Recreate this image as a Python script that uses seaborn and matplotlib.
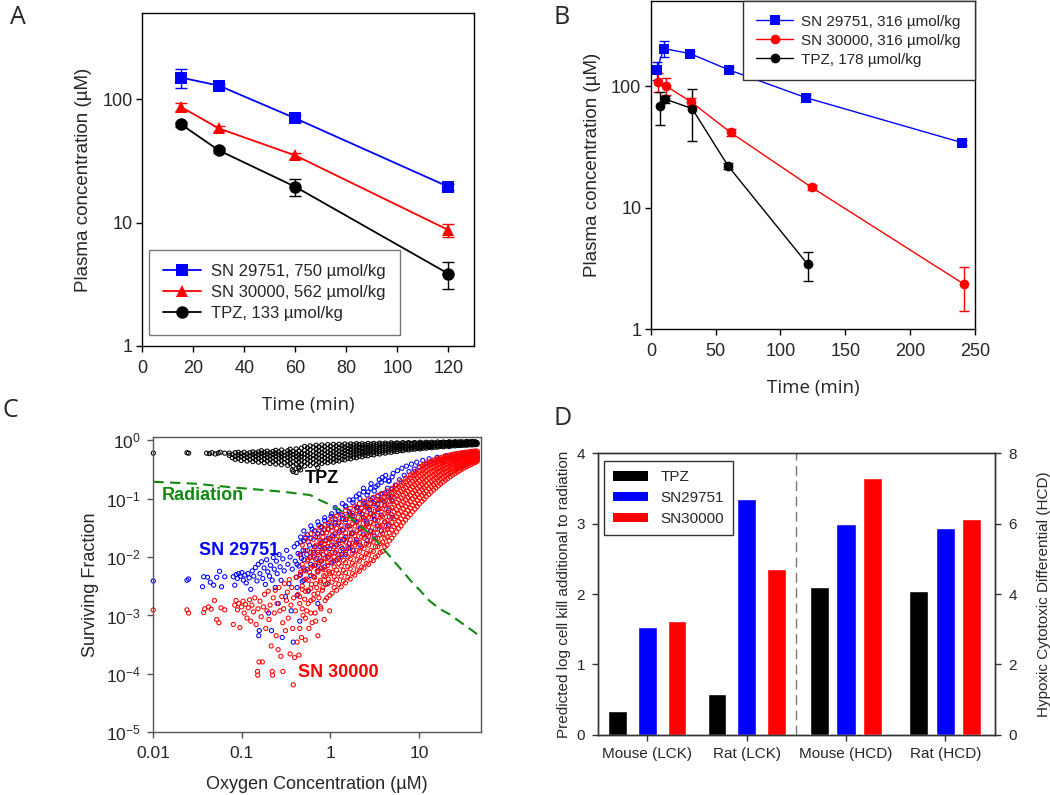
import matplotlib
matplotlib.use('Agg')
import matplotlib.pyplot as plt
import matplotlib.ticker as mticker
from matplotlib.patches import Patch
import seaborn as sns
import pandas as pd

sns.set_style('ticks')
plt.rcParams['font.family'] = ['Liberation Sans', 'DejaVu Sans']
plt.rcParams['axes.unicode_minus'] = False

BLUE, RED, BLACK, GREEN = '#0000ff', '#ff0000', '#000000', '#108a10'

# ---- panel A: plasma PK, mouse ----
time_a = [15, 30, 60, 120]
sn29751_a = [150, 129, 70, 19.5]
sn29751_a_err = [26, 4, 4, 1.2]
sn30000_a = [87, 58, 35, 8.7]
sn30000_a_err = [6.5, 3, 2, 1.0]
tpz_a = [63, 38.5, 19.5, 3.85]
tpz_a_err = [3, 2, 3, 0.95]

# ---- panel B: plasma PK, rat ----
sn29751_b_t = [4.4, 9.8, 30, 60, 120, 240]
sn29751_b = [135, 203, 185, 136, 80, 34.3]
sn29751_b_err = [22, 31, 8, 8, 5, 1.5]
sn30000_b_t = [5.7, 11.6, 31, 61.5, 124, 242]
sn30000_b = [108, 100, 74, 41.5, 14.7, 2.34]
sn30000_b_err = [19, 16, 5, 2.5, 0.7, 0.93]
tpz_b_t = [7, 11, 31.7, 59.7, 121]
tpz_b = [68.7, 78, 65.3, 21.9, 3.42]
tpz_b_err = [21, 5, 30, 1.3, 0.93]

# ---- panel C: surviving fraction vs O2 (µM, SF) ----
# isolated points as (O2, SF); dense regions as (O2, [SF, SF, ...])
tpz_pts = [
    (0.01, 0.60), (0.024, 0.61), (0.025, 0.60), (0.040, 0.60), (0.043, 0.59), (0.046, 0.61),
    (0.050, 0.58), (0.054, 0.60), (0.057, 0.62), (0.064, 0.60),
    (0.37, 0.31), (0.38, 0.29), (0.41, 0.28), (0.44, 0.33), (0.46, 0.31), (0.72, 0.34),
]
tpz_band = [
    (0.072, [0.55, 0.60]), (0.078, [0.50, 0.57]), (0.084, [0.47, 0.53, 0.61]),
    (0.091, [0.49, 0.56, 0.62]), (0.098, [0.45, 0.52, 0.59]), (0.106, [0.48, 0.55, 0.62]),
    (0.114, [0.44, 0.51, 0.58]), (0.123, [0.47, 0.54, 0.61]), (0.133, [0.43, 0.50, 0.57, 0.63]),
    (0.143, [0.46, 0.53, 0.60]), (0.154, [0.42, 0.49, 0.56, 0.63]),
    (0.166, [0.45, 0.52, 0.59, 0.66]), (0.179, [0.41, 0.48, 0.55, 0.62]),
    (0.193, [0.44, 0.51, 0.58, 0.65]), (0.208, [0.40, 0.47, 0.54, 0.61]),
    (0.224, [0.43, 0.50, 0.57, 0.64]), (0.241, [0.39, 0.46, 0.53, 0.60, 0.67]),
    (0.26, [0.42, 0.49, 0.56, 0.63]), (0.28, [0.38, 0.45, 0.52, 0.59, 0.68]),
    (0.30, [0.41, 0.48, 0.55, 0.62]), (0.33, [0.37, 0.44, 0.51, 0.58, 0.66]),
    (0.35, [0.40, 0.47, 0.54, 0.61, 0.70]), (0.38, [0.36, 0.43, 0.50, 0.57, 0.64]),
    (0.41, [0.39, 0.46, 0.53, 0.60, 0.71]), (0.44, [0.35, 0.42, 0.49, 0.56, 0.65]),
    (0.47, [0.38, 0.45, 0.52, 0.59, 0.73]), (0.51, [0.36, 0.43, 0.50, 0.58, 0.67, 0.78]),
    (0.55, [0.40, 0.47, 0.54, 0.62, 0.74]), (0.59, [0.37, 0.44, 0.51, 0.59, 0.69, 0.80]),
    (0.64, [0.41, 0.48, 0.55, 0.64, 0.76]), (0.69, [0.38, 0.45, 0.52, 0.60, 0.70, 0.82]),
    (0.74, [0.42, 0.49, 0.57, 0.66, 0.77]), (0.80, [0.40, 0.46, 0.53, 0.61, 0.71, 0.83]),
    (0.86, [0.43, 0.50, 0.58, 0.67, 0.78]), (0.93, [0.41, 0.47, 0.54, 0.62, 0.72, 0.84]),
    (1.00, [0.44, 0.51, 0.59, 0.68, 0.79]), (1.08, [0.42, 0.48, 0.55, 0.63, 0.73, 0.85]),
    (1.16, [0.45, 0.52, 0.60, 0.69, 0.80]), (1.25, [0.44, 0.50, 0.57, 0.65, 0.74, 0.85]),
    (1.35, [0.47, 0.54, 0.62, 0.71, 0.81]), (1.45, [0.46, 0.52, 0.59, 0.67, 0.76, 0.86]),
    (1.57, [0.49, 0.56, 0.64, 0.72, 0.82]), (1.69, [0.48, 0.54, 0.61, 0.69, 0.78, 0.86]),
    (1.82, [0.51, 0.58, 0.65, 0.73, 0.83]), (1.96, [0.50, 0.56, 0.63, 0.70, 0.79, 0.87]),
    (2.11, [0.53, 0.60, 0.67, 0.75, 0.84]), (2.28, [0.52, 0.58, 0.64, 0.72, 0.80, 0.87]),
    (2.46, [0.55, 0.61, 0.68, 0.76, 0.84]), (2.65, [0.54, 0.60, 0.66, 0.73, 0.81, 0.88]),
    (2.86, [0.57, 0.63, 0.70, 0.77, 0.85]), (3.08, [0.56, 0.62, 0.68, 0.75, 0.82, 0.88]),
    (3.32, [0.59, 0.65, 0.71, 0.78, 0.85]), (3.58, [0.58, 0.64, 0.70, 0.76, 0.83, 0.89]),
    (3.86, [0.61, 0.67, 0.73, 0.79, 0.86]), (4.16, [0.60, 0.66, 0.72, 0.78, 0.84, 0.89]),
    (4.49, [0.63, 0.69, 0.74, 0.80, 0.86]), (4.84, [0.62, 0.68, 0.73, 0.79, 0.85, 0.90]),
    (5.22, [0.65, 0.70, 0.76, 0.81, 0.87]), (5.63, [0.64, 0.69, 0.75, 0.80, 0.86, 0.90]),
    (6.07, [0.67, 0.72, 0.77, 0.82, 0.87]), (6.55, [0.66, 0.71, 0.76, 0.81, 0.86, 0.91]),
    (7.06, [0.69, 0.74, 0.78, 0.83, 0.88]), (7.61, [0.68, 0.73, 0.77, 0.82, 0.87, 0.91]),
    (8.21, [0.70, 0.75, 0.79, 0.84, 0.88]), (8.85, [0.70, 0.74, 0.78, 0.83, 0.87, 0.91]),
    (9.55, [0.72, 0.76, 0.80, 0.84, 0.89]), (10.3, [0.71, 0.75, 0.79, 0.83, 0.88, 0.92]),
    (11.1, [0.73, 0.77, 0.81, 0.85, 0.89]), (12.0, [0.73, 0.77, 0.80, 0.84, 0.88, 0.92]),
    (12.9, [0.75, 0.78, 0.82, 0.86, 0.90]), (13.9, [0.74, 0.78, 0.81, 0.85, 0.89, 0.92]),
    (15.0, [0.76, 0.80, 0.83, 0.87, 0.90]), (16.2, [0.76, 0.79, 0.82, 0.86, 0.89, 0.93]),
    (17.5, [0.78, 0.81, 0.84, 0.87, 0.91]), (18.8, [0.77, 0.80, 0.83, 0.87, 0.90, 0.93]),
    (20.3, [0.79, 0.82, 0.85, 0.88, 0.91]), (21.9, [0.78, 0.81, 0.84, 0.88, 0.91, 0.94]),
    (23.6, [0.80, 0.83, 0.86, 0.89, 0.92]), (25.5, [0.80, 0.83, 0.85, 0.88, 0.91, 0.94]),
    (27.5, [0.81, 0.84, 0.87, 0.90, 0.93]), (29.6, [0.81, 0.84, 0.86, 0.89, 0.92, 0.94]),
    (31.9, [0.82, 0.85, 0.88, 0.90, 0.93]), (34.4, [0.82, 0.85, 0.87, 0.90, 0.92, 0.95]),
    (37.1, [0.83, 0.86, 0.88, 0.91, 0.94]), (40.0, [0.83, 0.86, 0.88, 0.90, 0.93, 0.95]),
    (43.2, [0.84, 0.87, 0.89, 0.92, 0.94]), (45.0, [0.85, 0.88, 0.91]),
]
sn29751_pts = [
    (0.010, 0.0039), (0.024, 0.0040), (0.025, 0.0042), (0.036, 0.0031), (0.037, 0.0046),
    (0.041, 0.0045), (0.044, 0.0037), (0.048, 0.0033), (0.052, 0.0045), (0.056, 0.0057),
    (0.059, 0.0031), (0.064, 0.0046),
    (0.080, 0.0046), (0.083, 0.0033), (0.086, 0.0050), (0.089, 0.0043), (0.092, 0.0052),
    (0.096, 0.0047), (0.10, 0.0054), (0.104, 0.0040), (0.108, 0.0049), (0.112, 0.0036),
    (0.117, 0.0052), (0.121, 0.0044), (0.126, 0.0028), (0.131, 0.0058), (0.136, 0.0047),
    (0.142, 0.0066), (0.148, 0.0039), (0.153, 0.0075), (0.155, 0.00045), (0.157, 0.00055),
    (0.160, 0.0052), (0.166, 0.0083), (0.172, 0.0043), (0.178, 0.0065), (0.184, 0.0034),
    (0.19, 0.0090), (0.196, 0.0056),
    (0.20, 0.0011), (0.205, 0.0047), (0.21, 0.0072), (0.216, 0.00055), (0.22, 0.0040),
    (0.226, 0.0098), (0.232, 0.0062), (0.238, 0.0030), (0.245, 0.0085), (0.25, 0.0052),
    (0.257, 0.0016), (0.263, 0.0110), (0.27, 0.0068), (0.277, 0.0040), (0.285, 0.00042),
    (0.29, 0.0093), (0.30, 0.0058), (0.31, 0.0021), (0.32, 0.0130), (0.33, 0.0075),
    (0.34, 0.0035), (0.35, 0.0100), (0.36, 0.0012), (0.37, 0.0062), (0.38, 0.00035),
    (0.39, 0.0150), (0.40, 0.0085), (0.41, 0.0045), (0.42, 0.0022), (0.43, 0.0115),
    (0.44, 0.0070), (0.45, 0.0008), (0.46, 0.0180), (0.47, 0.0095), (0.48, 0.0038),
    (0.49, 0.0130),
    (0.50, 0.0060), (0.52, 0.0210), (0.54, 0.0110), (0.56, 0.0026), (0.58, 0.0160),
    (0.60, 0.0075), (0.62, 0.0300), (0.64, 0.0120), (0.66, 0.0045), (0.68, 0.0220),
    (0.70, 0.0095), (0.72, 0.0016), (0.74, 0.0350), (0.76, 0.0150), (0.78, 0.0065),
    (0.80, 0.0260), (0.83, 0.0110), (0.86, 0.0420), (0.89, 0.0190), (0.92, 0.0035),
    (0.95, 0.0300), (0.98, 0.0140), (1.01, 0.0500), (1.05, 0.0230), (1.09, 0.0085),
    (1.13, 0.0380), (1.17, 0.0160), (1.22, 0.0600), (1.27, 0.0280), (1.32, 0.0110),
    (1.37, 0.0450), (1.42, 0.0200), (1.48, 0.0750), (1.54, 0.0340), (1.60, 0.0140),
    (1.66, 0.0550), (1.73, 0.0250), (1.80, 0.0950), (1.87, 0.0420), (1.94, 0.0180),
    (2.02, 0.0700),
    (2.10, 0.120), (2.18, 0.0300), (2.27, 0.0550), (2.36, 0.150), (2.45, 0.0850),
    (2.55, 0.0400), (2.65, 0.130), (2.76, 0.0650), (2.87, 0.180), (2.98, 0.100),
    (3.10, 0.0500), (3.25, 0.160), (3.40, 0.0800), (3.55, 0.210), (3.70, 0.120),
    (3.85, 0.230), (4.00, 0.0900), (4.20, 0.250), (4.40, 0.150), (4.60, 0.200),
    (4.85, 0.110), (5.10, 0.270), (5.40, 0.170), (5.70, 0.300), (6.00, 0.210),
    (6.40, 0.330), (6.80, 0.250), (7.20, 0.360), (7.70, 0.290), (8.20, 0.390),
    (8.80, 0.320), (9.40, 0.420), (10.0, 0.350), (11.0, 0.450), (12.0, 0.390),
    (13.0, 0.480), (14.5, 0.420), (16.0, 0.510), (18.0, 0.460), (20.0, 0.540),
    (22.5, 0.490), (25.0, 0.570), (28.0, 0.520), (31.0, 0.590), (35.0, 0.560),
    (39.0, 0.620), (44.0, 0.600),
]
sn29751_band = [
    (0.42, [0.0030, 0.0075, 0.017]), (0.46, [0.0050, 0.011, 0.022]),
    (0.50, [0.0040, 0.0090, 0.019, 0.028]), (0.55, [0.0062, 0.013, 0.024]),
    (0.60, [0.0048, 0.010, 0.021, 0.034]), (0.66, [0.0072, 0.015, 0.028]),
    (0.72, [0.0058, 0.012, 0.025, 0.040]), (0.79, [0.0085, 0.018, 0.033]),
    (0.86, [0.0068, 0.014, 0.029, 0.047]), (0.94, [0.010, 0.021, 0.038]),
    (1.03, [0.0080, 0.016, 0.033, 0.055]), (1.13, [0.012, 0.025, 0.045, 0.070]),
    (1.24, [0.0095, 0.019, 0.038, 0.062]), (1.36, [0.014, 0.029, 0.052, 0.082]),
    (1.49, [0.011, 0.022, 0.044, 0.072]), (1.63, [0.017, 0.034, 0.060, 0.095]),
    (1.79, [0.013, 0.026, 0.051, 0.085]), (1.96, [0.020, 0.040, 0.070, 0.110]),
    (2.15, [0.016, 0.031, 0.060, 0.100]), (2.36, [0.024, 0.047, 0.082, 0.130]),
    (2.59, [0.019, 0.037, 0.070, 0.115]), (2.84, [0.028, 0.055, 0.095, 0.150]),
    (3.12, [0.023, 0.044, 0.082, 0.135]), (3.42, [0.034, 0.065, 0.110, 0.170]),
    (3.75, [0.028, 0.052, 0.095, 0.190]), (4.12, [0.040, 0.076, 0.125, 0.210]),
    (4.52, [0.034, 0.062, 0.110, 0.200]), (4.96, [0.048, 0.090, 0.145, 0.235]),
]
sn30000_pts = [
    (0.010, 0.00124), (0.024, 0.00125), (0.025, 0.00110), (0.037, 0.00112), (0.038, 0.00130),
    (0.042, 0.00140), (0.045, 0.00128), (0.049, 0.00180), (0.052, 0.00085), (0.055, 0.00075),
    (0.058, 0.00135), (0.064, 0.00125),
    (0.080, 0.00070), (0.083, 0.00150), (0.086, 0.00180), (0.089, 0.00125), (0.092, 0.00160),
    (0.095, 0.00062), (0.099, 0.00140), (0.103, 0.00175), (0.106, 0.00110), (0.110, 0.00155),
    (0.114, 0.00090), (0.118, 0.00135), (0.122, 0.00185), (0.126, 0.00080), (0.130, 0.00150),
    (0.135, 0.00115), (0.140, 0.00200), (0.145, 0.00070), (0.150, 0.00011), (0.151, 0.000095),
    (0.152, 0.00130), (0.156, 0.00016), (0.160, 0.00175), (0.165, 0.00095), (0.170, 0.00016),
    (0.175, 0.00140), (0.180, 0.00230), (0.186, 0.00060), (0.192, 0.00120), (0.198, 0.00260),
    (0.202, 0.00085), (0.208, 0.00150), (0.214, 0.00030), (0.220, 0.00011), (0.222, 0.000095),
    (0.226, 0.00200), (0.232, 0.00110), (0.238, 0.00270), (0.244, 0.00045), (0.250, 0.00160),
    (0.256, 0.00026), (0.262, 0.00300), (0.268, 0.00120), (0.275, 0.00020), (0.282, 0.00210),
    (0.289, 0.00075), (0.290, 0.00011), (0.296, 0.00130), (0.303, 0.00350), (0.310, 0.00055),
    (0.318, 0.00180), (0.326, 0.00250), (0.334, 0.00090), (0.342, 0.00410), (0.350, 0.00022),
    (0.358, 0.00150), (0.366, 0.00300), (0.375, 0.00060), (0.380, 0.000065), (0.384, 0.00200),
    (0.393, 0.00019), (0.402, 0.00120), (0.412, 0.00450), (0.420, 0.00035), (0.430, 0.00230),
    (0.440, 0.00021), (0.450, 0.00160), (0.460, 0.00550), (0.470, 0.00042), (0.480, 0.00280),
    (0.490, 0.00100),
    (0.50, 0.00650), (0.51, 0.00190), (0.52, 0.00038), (0.53, 0.00420), (0.54, 0.00120),
    (0.55, 0.00850), (0.56, 0.00270), (0.57, 0.00060), (0.58, 0.00550), (0.59, 0.01000),
    (0.60, 0.00180), (0.61, 0.00340), (0.62, 0.00075), (0.63, 0.00700), (0.64, 0.01300),
    (0.65, 0.00230), (0.66, 0.00450), (0.67, 0.00110), (0.68, 0.00900), (0.69, 0.01600),
    (0.70, 0.00300), (0.71, 0.00580), (0.72, 0.00045), (0.73, 0.01100), (0.74, 0.00200),
    (0.75, 0.00800), (0.76, 0.01900), (0.77, 0.00370), (0.78, 0.00130), (0.79, 0.00650),
    (0.80, 0.01400), (0.81, 0.00270), (0.82, 0.02200), (0.83, 0.00950), (0.84, 0.00480),
    (0.85, 0.00085), (0.86, 0.01700), (0.87, 0.00600), (0.88, 0.00340), (0.89, 0.01200),
    (0.90, 0.02600), (0.91, 0.00200), (0.92, 0.00800), (0.93, 0.01500), (0.94, 0.00420),
    (0.95, 0.03000), (0.96, 0.01000), (0.97, 0.00560), (0.98, 0.00120), (0.99, 0.02000),
]
sn30000_band = [
    (0.45, [0.0006, 0.0021, 0.0048, 0.011]), (0.48, [0.0013, 0.0032, 0.0075, 0.016]),
    (0.52, [0.0009, 0.0026, 0.0058, 0.013, 0.022]), (0.56, [0.0016, 0.0040, 0.0090, 0.018]),
    (0.60, [0.0011, 0.0029, 0.0065, 0.012, 0.025]), (0.64, [0.0019, 0.0047, 0.0100, 0.020]),
    (0.68, [0.0008, 0.0035, 0.0072, 0.015, 0.028]), (0.72, [0.0024, 0.0055, 0.0120, 0.022]),
    (0.77, [0.0014, 0.0040, 0.0085, 0.017, 0.032]), (0.82, [0.0030, 0.0062, 0.0130, 0.026]),
    (0.87, [0.0018, 0.0046, 0.0095, 0.019, 0.036]), (0.93, [0.0035, 0.0072, 0.0150, 0.030]),
    (0.98, [0.0022, 0.0052, 0.0110, 0.021, 0.040]),
    (1.04, [0.0024, 0.0037, 0.0055, 0.0082, 0.012, 0.018, 0.028, 0.045]),
    (1.10, [0.0030, 0.0046, 0.0068, 0.010, 0.015, 0.023, 0.035]),
    (1.17, [0.0027, 0.0041, 0.0060, 0.0090, 0.013, 0.020, 0.031, 0.050]),
    (1.24, [0.0034, 0.0052, 0.0077, 0.011, 0.017, 0.026, 0.040]),
    (1.32, [0.0031, 0.0047, 0.0070, 0.010, 0.015, 0.023, 0.035, 0.055]),
    (1.40, [0.0039, 0.0059, 0.0088, 0.013, 0.019, 0.029, 0.045]),
    (1.48, [0.0036, 0.0054, 0.0080, 0.012, 0.018, 0.026, 0.040, 0.062]),
    (1.57, [0.0045, 0.0068, 0.010, 0.015, 0.022, 0.033, 0.050]),
    (1.67, [0.0042, 0.0063, 0.0093, 0.014, 0.020, 0.030, 0.045, 0.068]),
    (1.77, [0.0052, 0.0078, 0.0115, 0.017, 0.025, 0.037, 0.056]),
    (1.88, [0.0049, 0.0073, 0.0108, 0.016, 0.023, 0.034, 0.050, 0.075]),
    (2.00, [0.0060, 0.0090, 0.013, 0.019, 0.028, 0.041, 0.062]),
    (2.12, [0.0057, 0.0085, 0.0125, 0.018, 0.026, 0.038, 0.056, 0.082]),
    (2.25, [0.0068, 0.0102, 0.015, 0.022, 0.032, 0.046, 0.068]),
    (2.39, [0.0065, 0.0097, 0.014, 0.021, 0.030, 0.043, 0.062, 0.090]),
    (2.54, [0.0078, 0.0115, 0.017, 0.024, 0.035, 0.051, 0.075]),
    (2.69, [0.0075, 0.011, 0.016, 0.023, 0.033, 0.048, 0.069, 0.098]),
    (2.86, [0.0090, 0.013, 0.019, 0.027, 0.039, 0.056, 0.082]),
    (3.04, [0.0087, 0.0125, 0.018, 0.026, 0.037, 0.053, 0.076, 0.105]),
    (3.22, [0.010, 0.015, 0.021, 0.030, 0.043, 0.062, 0.089]),
    (3.42, [0.0105, 0.015, 0.021, 0.030, 0.042, 0.059, 0.083, 0.113]),
    (3.63, [0.012, 0.017, 0.024, 0.034, 0.048, 0.068, 0.096]),
    (3.86, [0.0125, 0.018, 0.025, 0.035, 0.049, 0.068, 0.093, 0.122]),
    (4.10, [0.015, 0.021, 0.029, 0.040, 0.056, 0.077, 0.105]),
    (4.35, [0.016, 0.022, 0.030, 0.042, 0.058, 0.079, 0.107, 0.135]),
    (4.62, [0.019, 0.026, 0.036, 0.049, 0.067, 0.090, 0.120]),
    (4.91, [0.021, 0.029, 0.039, 0.053, 0.071, 0.095, 0.126, 0.150]),
    (5.21, [0.024, 0.033, 0.045, 0.060, 0.080, 0.106, 0.138]),
    (5.54, [0.027, 0.036, 0.049, 0.065, 0.086, 0.113, 0.145, 0.170]),
    (5.88, [0.031, 0.041, 0.055, 0.073, 0.096, 0.125, 0.160]),
    (6.25, [0.034, 0.045, 0.060, 0.079, 0.103, 0.133, 0.168, 0.195]),
    (6.64, [0.039, 0.051, 0.067, 0.088, 0.114, 0.146, 0.185]),
    (7.05, [0.043, 0.056, 0.073, 0.095, 0.122, 0.155, 0.193, 0.225]),
    (7.49, [0.048, 0.063, 0.082, 0.105, 0.134, 0.170, 0.212]),
    (7.96, [0.053, 0.069, 0.089, 0.114, 0.145, 0.182, 0.225, 0.255]),
    (8.45, [0.060, 0.077, 0.099, 0.126, 0.159, 0.198, 0.243]),
    (8.98, [0.066, 0.085, 0.108, 0.137, 0.171, 0.212, 0.258, 0.290]),
    (9.54, [0.073, 0.093, 0.118, 0.149, 0.185, 0.228, 0.276]),
    (10.1, [0.081, 0.103, 0.130, 0.162, 0.200, 0.245, 0.295, 0.340]),
    (10.8, [0.090, 0.113, 0.142, 0.176, 0.216, 0.262, 0.314, 0.360]),
    (11.4, [0.098, 0.123, 0.153, 0.189, 0.231, 0.279, 0.332, 0.385]),
    (12.1, [0.108, 0.135, 0.167, 0.205, 0.249, 0.298, 0.352, 0.405]),
    (12.9, [0.118, 0.147, 0.181, 0.221, 0.266, 0.316, 0.370, 0.420]),
    (13.7, [0.129, 0.160, 0.196, 0.237, 0.283, 0.334, 0.388, 0.438]),
    (14.6, [0.140, 0.173, 0.210, 0.252, 0.299, 0.350, 0.404, 0.455]),
    (15.5, [0.152, 0.186, 0.225, 0.268, 0.316, 0.367, 0.421, 0.470]),
    (16.5, [0.165, 0.200, 0.240, 0.284, 0.332, 0.383, 0.437, 0.485]),
    (17.5, [0.178, 0.214, 0.255, 0.300, 0.348, 0.399, 0.452, 0.500]),
    (18.6, [0.192, 0.229, 0.271, 0.316, 0.364, 0.415, 0.467, 0.515]),
    (19.8, [0.206, 0.244, 0.286, 0.331, 0.379, 0.429, 0.481, 0.530]),
    (21.0, [0.221, 0.259, 0.301, 0.346, 0.394, 0.443, 0.494, 0.545]),
    (22.4, [0.236, 0.275, 0.317, 0.362, 0.408, 0.457, 0.507, 0.558]),
    (23.8, [0.252, 0.290, 0.332, 0.376, 0.422, 0.470, 0.519, 0.570]),
    (25.3, [0.268, 0.306, 0.347, 0.390, 0.436, 0.482, 0.530, 0.580]),
    (26.9, [0.284, 0.322, 0.362, 0.404, 0.449, 0.494, 0.541, 0.590]),
    (28.6, [0.300, 0.337, 0.377, 0.418, 0.461, 0.506, 0.551, 0.600]),
    (30.4, [0.317, 0.353, 0.392, 0.432, 0.474, 0.517, 0.561, 0.608]),
    (32.3, [0.334, 0.369, 0.407, 0.446, 0.486, 0.528, 0.571, 0.616]),
    (34.3, [0.351, 0.385, 0.421, 0.459, 0.498, 0.538, 0.580, 0.624]),
    (36.5, [0.368, 0.401, 0.436, 0.472, 0.510, 0.549, 0.589, 0.632]),
    (38.8, [0.385, 0.416, 0.450, 0.485, 0.521, 0.559, 0.598, 0.640]),
    (41.2, [0.402, 0.432, 0.464, 0.497, 0.532, 0.568, 0.606, 0.648]),
    (43.8, [0.420, 0.448, 0.478, 0.510, 0.543, 0.578, 0.614, 0.655]),
    (45.5, [0.440, 0.470, 0.500, 0.532, 0.565, 0.600, 0.640]),
]
rad_o2 = [0.01, 0.03, 0.08, 0.15, 0.29, 0.59, 0.76, 1.0, 1.39, 2.0, 2.6, 3.3, 4.2, 5.3, 6.6,
          8.2, 10.2, 13, 17, 22, 30, 40, 45]
rad_sf = [0.194, 0.18, 0.155, 0.143, 0.131, 0.115, 0.094, 0.078, 0.059, 0.038, 0.027, 0.019,
          0.0125, 0.0082, 0.0056, 0.0038, 0.0027, 0.0018, 0.0013, 0.00105, 0.00075, 0.00055, 0.00048]

# ---- panel D: bars ----
groups_d = ['Mouse (LCK)', 'Rat (LCK)', 'Mouse (HCD)', 'Rat (HCD)']
drugs_d = ['TPZ', 'SN29751', 'SN30000']
lck_mouse = [0.33, 1.53, 1.61]
lck_rat = [0.58, 3.35, 2.36]
hcd_mouse = [4.19, 6.0, 7.30]
hcd_rat = [4.09, 5.88, 6.13]

W, H = 1050, 795
fig = plt.figure(figsize=(W / 100, H / 100), dpi=100)


def box(l, t, r, b):
    return [l / W, 1 - b / H, (r - l) / W, (b - t) / H]


def frame(ax, color, labelsize, xpad, ypad):
    for sp in ax.spines.values():
        sp.set_visible(True)
        sp.set_color(color)
        sp.set_linewidth(1.0)
    ax.tick_params(which='major', direction='out', length=4, width=1, color=color,
                   labelsize=labelsize)
    ax.tick_params(axis='x', pad=xpad)
    ax.tick_params(axis='y', pad=ypad)
    ax.tick_params(which='minor', length=0)


def pk_panel(ax, series, ms, lw, cap):
    for t, c, e, col, mk, lab in series:
        sns.lineplot(x=t, y=c, ax=ax, color=col, marker=mk, markersize=ms,
                     markeredgewidth=0, linewidth=lw, label=lab, sort=False)
        ax.errorbar(t, c, yerr=e, fmt='none', ecolor=col, elinewidth=1,
                    capsize=cap, capthick=1, zorder=1)
    ax.set_yscale('log')
    ax.set_ylim(1, 500)
    ax.yaxis.set_major_locator(mticker.FixedLocator([1, 10, 100]))
    ax.yaxis.set_major_formatter(mticker.FuncFormatter(lambda v, _: f'{v:g}'))
    ax.yaxis.set_minor_locator(mticker.NullLocator())


def expand(pts, band):
    xs = [p[0] for p in pts] + [x for x, ys in band for _ in ys]
    ys = [p[1] for p in pts] + [y for _, yl in band for y in yl]
    return xs, ys


# ---------------- A ----------------
ax_a = fig.add_axes(box(142.3, 13, 474, 346))
pk_panel(ax_a, [
    (time_a, sn29751_a, sn29751_a_err, BLUE, 's', 'SN 29751, 750 µmol/kg'),
    (time_a, sn30000_a, sn30000_a_err, RED, '^', 'SN 30000, 562 µmol/kg'),
    (time_a, tpz_a, tpz_a_err, BLACK, 'o', 'TPZ, 133 µmol/kg'),
], ms=9, lw=1.3, cap=4)
ax_a.set_xlim(0, 130)
ax_a.set_xticks(range(0, 121, 20))
frame(ax_a, 'black', 13, 6, 3)
ax_a.set_xlabel('Time (min)', fontsize=13.5, family='Open Sans')
ax_a.set_ylabel('Plasma concentration (µM)', fontsize=13.5)
ax_a.xaxis.set_label_coords(0.5, -0.150)
ax_a.yaxis.set_label_coords(-0.152, 0.5)
leg = ax_a.legend(loc='lower left', bbox_to_anchor=(0.02, 0.033), borderaxespad=0,
                  fontsize=12, frameon=True, fancybox=False, edgecolor='#777777',
                  framealpha=1, handlelength=2.3, handletextpad=0.6, borderpad=0.85,
                  labelspacing=0.35)
leg.get_frame().set_linewidth(1.0)

# ---------------- B ----------------
ax_b = fig.add_axes(box(651, 1, 974.7, 329.3))
pk_panel(ax_b, [
    (sn29751_b_t, sn29751_b, sn29751_b_err, BLUE, 's', 'SN 29751, 316 µmol/kg'),
    (sn30000_b_t, sn30000_b, sn30000_b_err, RED, 'o', 'SN 30000, 316 µmol/kg'),
    (tpz_b_t, tpz_b, tpz_b_err, BLACK, 'o', 'TPZ, 178 µmol/kg'),
], ms=7, lw=1.0, cap=3.5)
ax_b.set_xlim(0, 250)
ax_b.set_xticks(range(0, 251, 50))
frame(ax_b, 'black', 13, 6, 3)
ax_b.set_xlabel('Time (min)', fontsize=13.5, family='Open Sans')
ax_b.set_ylabel('Plasma concentration (µM)', fontsize=13.5)
ax_b.xaxis.set_label_coords(0.5, -0.151)
ax_b.yaxis.set_label_coords(-0.154, 0.5)
leg = ax_b.legend(loc='upper right', bbox_to_anchor=(1, 1), borderaxespad=0,
                  fontsize=11, frameon=True, fancybox=False, edgecolor='#333333',
                  framealpha=1, handlelength=2.4, handletextpad=0.55, borderpad=0.9,
                  labelspacing=0.32)
leg.get_frame().set_linewidth(1.0)

# ---------------- C ----------------
ax_c = fig.add_axes(box(153.3, 437.3, 481, 732.3))
for pts, band, col in [(tpz_pts, tpz_band, BLACK), (sn29751_pts, sn29751_band, BLUE),
                       (sn30000_pts, sn30000_band, RED)]:
    xs, ys = expand(pts, band)
    sns.scatterplot(x=xs, y=ys, ax=ax_c, s=9, facecolor='none',
                    edgecolor=col, linewidth=0.75, clip_on=False)
sns.lineplot(x=rad_o2, y=rad_sf, ax=ax_c, color=GREEN, linewidth=1.5,
             linestyle=(0, (5, 3)))
ax_c.set_xscale('log')
ax_c.set_yscale('log')
ax_c.set_xlim(0.01, 50)
ax_c.set_ylim(1e-5, 1.12)
ax_c.xaxis.set_major_locator(mticker.FixedLocator([0.01, 0.1, 1, 10]))
ax_c.xaxis.set_major_formatter(mticker.FuncFormatter(lambda v, _: f'{v:g}'))
ax_c.yaxis.set_major_locator(mticker.FixedLocator([1e-5, 1e-4, 1e-3, 1e-2, 1e-1, 1]))
ax_c.yaxis.set_major_formatter(mticker.LogFormatterSciNotation())
ax_c.xaxis.set_minor_locator(mticker.NullLocator())
ax_c.yaxis.set_minor_locator(mticker.NullLocator())
frame(ax_c, '#555555', 12.5, 6, 5)
ax_c.set_xlabel('Oxygen Concentration (µM)', fontsize=13)
ax_c.set_ylabel('Surviving Fraction', fontsize=13)
ax_c.xaxis.set_label_coords(0.5, -0.148)
ax_c.yaxis.set_label_coords(-0.166, 0.5)
ax_c.text(0.80, 0.22, 'TPZ', color=BLACK, fontsize=13, fontweight='bold', ha='center', va='center')
ax_c.text(0.0124, 0.112, 'Radiation', color=GREEN, fontsize=13, fontweight='bold', ha='left', va='center')
ax_c.text(0.093, 0.0131, 'SN 29751', color=BLUE, fontsize=13, fontweight='bold', ha='center', va='center')
ax_c.text(1.21, 1.05e-4, 'SN 30000', color=RED, fontsize=13, fontweight='bold', ha='center', va='center')

# ---------------- D ----------------
ax_d = fig.add_axes(box(597.7, 453.3, 995, 734.7))
palette_d = dict(zip(drugs_d, [BLACK, BLUE, RED]))
df_lck = pd.DataFrame({
    'group': ['Mouse (LCK)'] * 3 + ['Rat (LCK)'] * 3,
    'drug': drugs_d * 2,
    'value': lck_mouse + lck_rat,
})
df_hcd = pd.DataFrame({
    'group': ['Mouse (HCD)'] * 3 + ['Rat (HCD)'] * 3,
    'drug': drugs_d * 2,
    'value': hcd_mouse + hcd_rat,
})
sns.barplot(data=df_lck, x='group', y='value', hue='drug', order=groups_d,
            hue_order=drugs_d, palette=palette_d, saturation=1, width=0.9, gap=0.38,
            errorbar=None, legend=False, ax=ax_d)
ax_d2 = ax_d.twinx()
sns.barplot(data=df_hcd, x='group', y='value', hue='drug', order=groups_d,
            hue_order=drugs_d, palette=palette_d, saturation=1, width=0.8, gap=0.28,
            errorbar=None, legend=False, ax=ax_d2)
ax_d.set_xlim(-0.5, 3.5)
ax_d.set_ylim(0, 4)
ax_d.set_yticks([0, 1, 2, 3, 4])
ax_d2.set_ylim(0, 8)
ax_d2.set_yticks([0, 2, 4, 6, 8])
ax_d.axvline(1.5, color='#777777', linewidth=1, linestyle=(0, (7, 4)), zorder=0)
frame(ax_d, '#333333', 11, 5, 5)
frame(ax_d2, '#333333', 11, 5, 5.5)
ax_d.set_xlabel('')
ax_d.set_ylabel('Predicted log cell kill additional to radiation', fontsize=11)
ax_d.yaxis.set_label_coords(-0.067, 0.5)
ax_d2.set_xlabel('')
ax_d2.set_ylabel('Hypoxic Cytotoxic Differential (HCD)', fontsize=11)
ax_d2.yaxis.set_label_coords(1.105, 0.5)
handles_d = [Patch(facecolor=palette_d[d], edgecolor='none', label=d) for d in drugs_d]
leg = ax_d2.legend(handles=handles_d, loc='upper left', bbox_to_anchor=(0.016, 0.973),
                   borderaxespad=0, fontsize=11, frameon=True, fancybox=False,
                   edgecolor='#333333', framealpha=1, handlelength=2.3, handleheight=0.6,
                   handletextpad=0.8, borderpad=0.6, labelspacing=0.45)
leg.get_frame().set_linewidth(1.0)

# panel letters
for letter, x, y in [('A', 10, 5), ('B', 553, 5), ('C', 2, 398), ('D', 553, 406)]:
    fig.text(x / W, 1 - y / H, letter, fontsize=18, family='Open Sans', ha='left', va='top')

fig.savefig('out.png', dpi=100)
